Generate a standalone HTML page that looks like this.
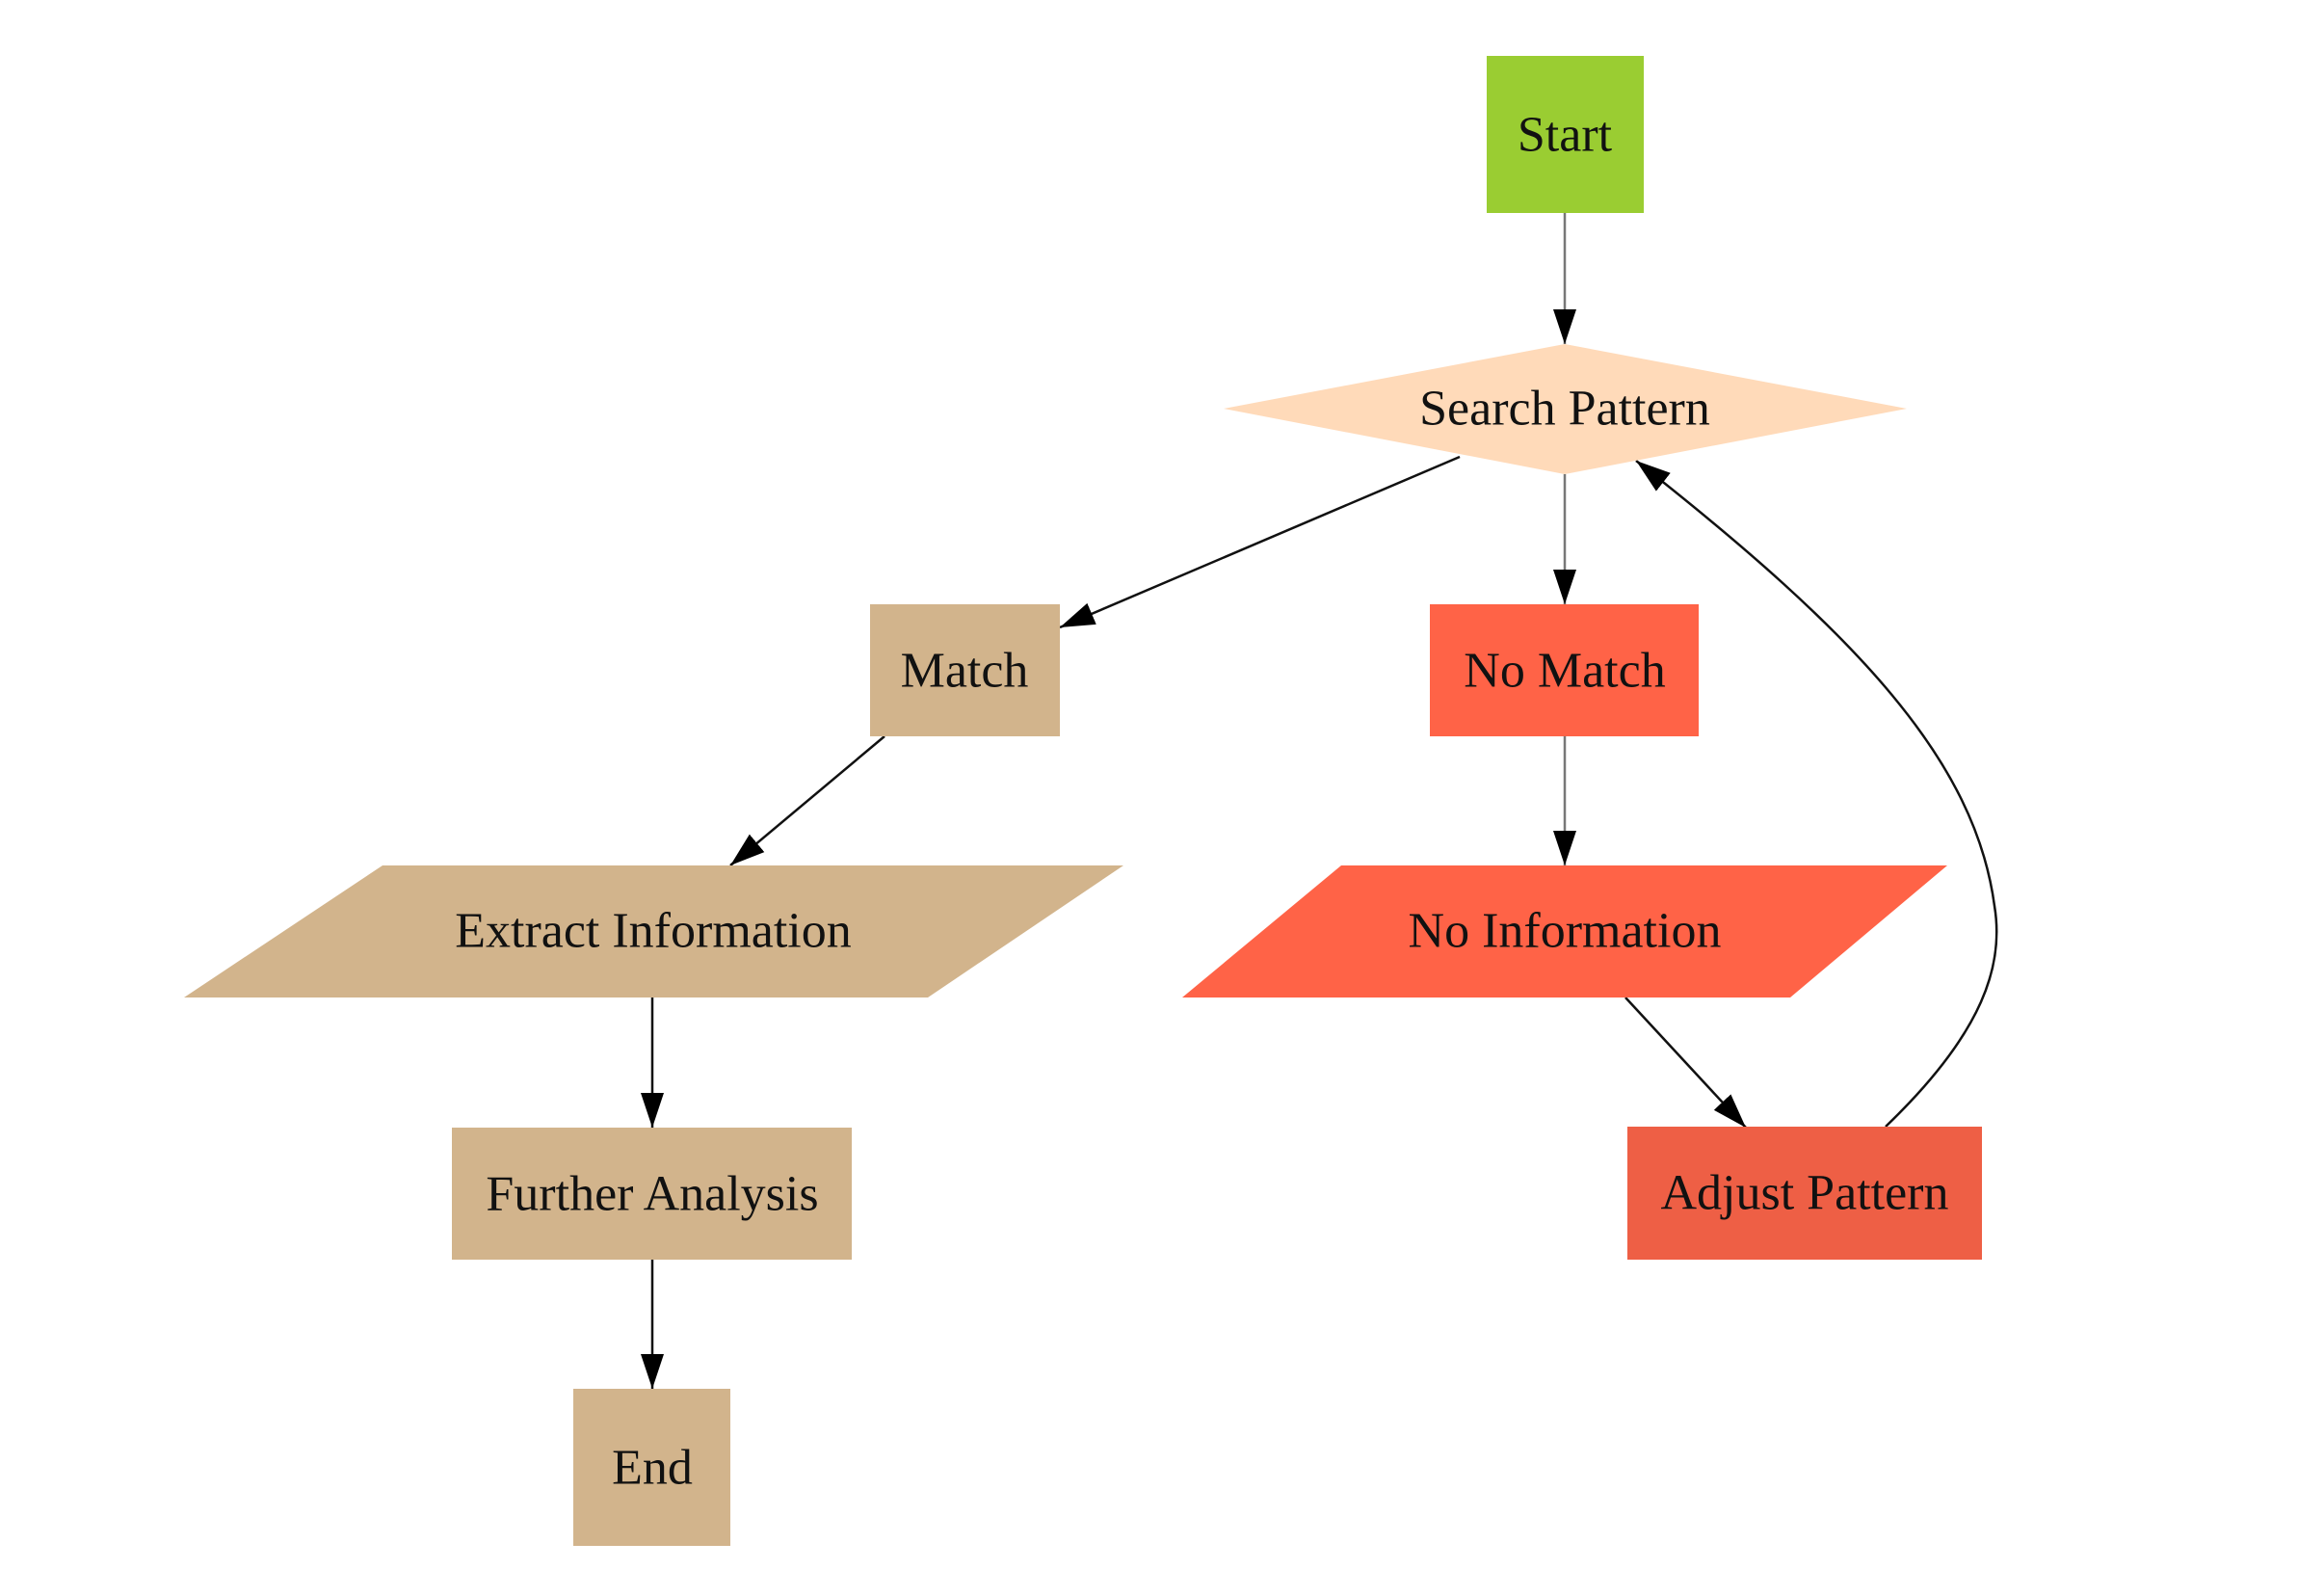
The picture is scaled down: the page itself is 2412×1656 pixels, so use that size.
<!DOCTYPE html>
<html><head><meta charset="utf-8"><style>
html,body{margin:0;padding:0;background:#fff;}
svg{display:block;}
text{font-family:"Liberation Serif",serif;font-size:52px;fill:#111;text-anchor:middle;dominant-baseline:central;}
</style></head><body>
<svg width="2412" height="1656" viewBox="0 0 2412 1656" xmlns="http://www.w3.org/2000/svg">
<defs>
<marker id="a" markerUnits="userSpaceOnUse" markerWidth="36" markerHeight="36" viewBox="0 0 36 36" refX="36" refY="18" orient="auto">
<path d="M0,6 L36,18 L0,30 Z" fill="#000"/>
</marker>
</defs>
<g fill="none" stroke="#111" stroke-width="2.5">
<line x1="1624" y1="221" x2="1624" y2="357" marker-end="url(#a)" stroke="#777"/>
<line x1="1515" y1="474" x2="1100" y2="651" marker-end="url(#a)"/>
<line x1="1624" y1="492" x2="1624" y2="627" marker-end="url(#a)" stroke="#777"/>
<line x1="918" y1="764" x2="758" y2="898" marker-end="url(#a)"/>
<line x1="1624" y1="764" x2="1624" y2="898" marker-end="url(#a)" stroke="#777"/>
<line x1="677" y1="1035" x2="677" y2="1170" marker-end="url(#a)"/>
<line x1="677" y1="1307" x2="677" y2="1441" marker-end="url(#a)"/>
<line x1="1687" y1="1035" x2="1812" y2="1170" marker-end="url(#a)"/>
<path d="M1957,1169 C2060,1070 2080,1000 2070,940 C2050,790 1930,660 1698,478" marker-end="url(#a)"/>
</g>
<rect x="1543" y="58" width="163" height="163" fill="#9ACD32"/>
<text x="1624" y="140">Start</text>
<polygon points="1624,357 1979,424 1624,492 1270,424" fill="#FFDAB9"/>
<text x="1624" y="424">Search Pattern</text>
<rect x="903" y="627" width="197" height="137" fill="#D2B48C"/>
<text x="1001" y="696">Match</text>
<rect x="1484" y="627" width="279" height="137" fill="#FF6347"/>
<text x="1624" y="696">No Match</text>
<polygon points="397,898 1166,898 963,1035 191,1035" fill="#D2B48C"/>
<text x="678" y="966">Extract Information</text>
<polygon points="1392,898 2021,898 1858,1035 1227,1035" fill="#FF6347"/>
<text x="1624" y="966">No Information</text>
<rect x="469" y="1170" width="415" height="137" fill="#D2B48C"/>
<text x="677" y="1239">Further Analysis</text>
<rect x="595" y="1441" width="163" height="163" fill="#D2B48C"/>
<text x="677" y="1523">End</text>
<rect x="1689" y="1169" width="368" height="138" fill="#EE5F45"/>
<text x="1873" y="1238">Adjust Pattern</text>
</svg>
</body></html>
